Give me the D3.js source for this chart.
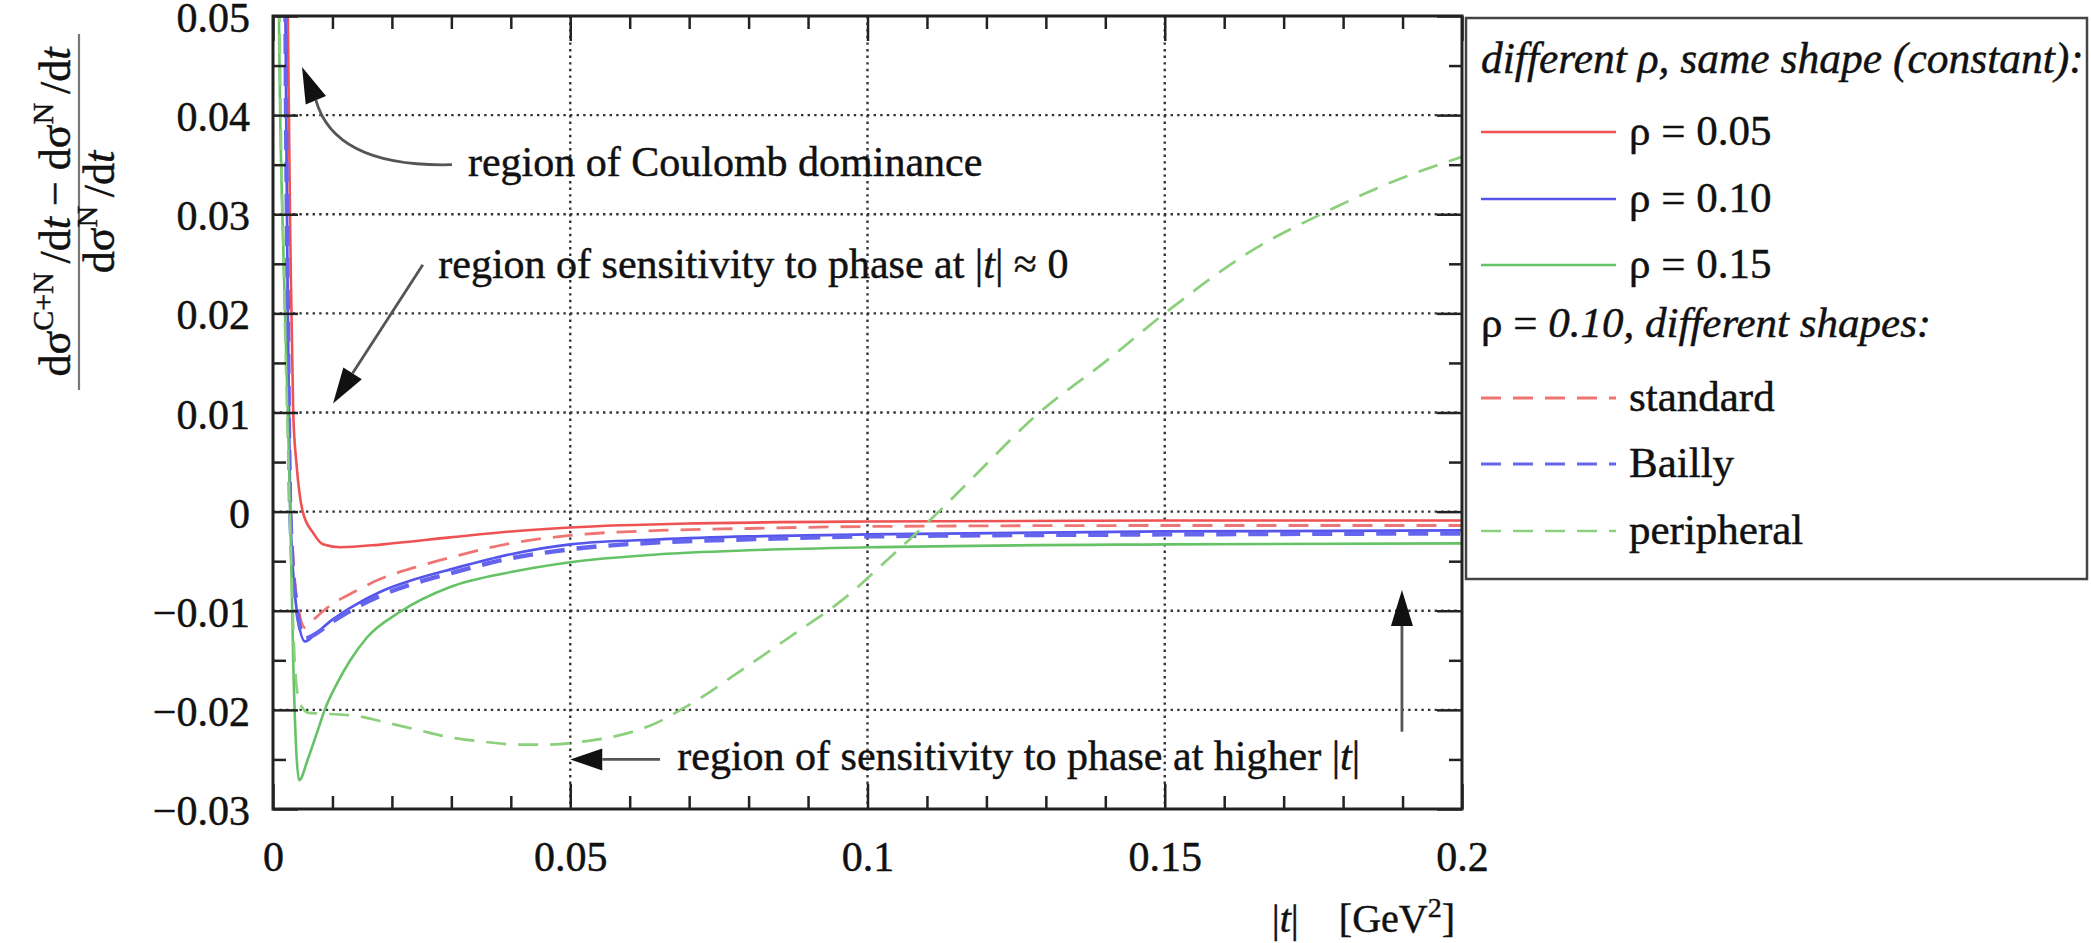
<!DOCTYPE html>
<html><head><meta charset="utf-8">
<script src="https://cdn.jsdelivr.net/npm/d3@7"></script>
<style>
body{margin:0;background:#fff}
svg{display:block}
svg text{font-family:"Liberation Serif","Times New Roman",serif;stroke:#111;stroke-width:0.45px;}
</style>
</head><body>
<svg id="c" width="2091" height="943"></svg>
<script>
// ---------- data ----------
const xTicks = [0, 0.05, 0.1, 0.15, 0.2];
const xTickLabels = ["0", "0.05", "0.1", "0.15", "0.2"];
const xMinorTicks = [0.01,0.02,0.03,0.04,0.06,0.07,0.08,0.09,0.11,0.12,0.13,0.14,0.16,0.17,0.18,0.19];
const yTicks = [0.05, 0.04, 0.03, 0.02, 0.01, 0, -0.01, -0.02, -0.03];
const yTickLabels = ["0.05","0.04","0.03","0.02","0.01","0","\u22120.01","\u22120.02","\u22120.03"];
const yMinorTicks = [0.045,0.035,0.025,0.015,0.005,-0.005,-0.015,-0.025];

// rho = 0.05, constant shape
const tRho005 = [0.0012,0.0025,0.003,0.0034,0.004,0.005,0.0067,0.0084,0.0113,0.0185,0.0298,0.04,0.05,0.07,0.1,0.15,0.2];
const vRho005 = [0.3,0.05,0.024,0.01,0.0045,0.0,-0.0021,-0.0033,-0.0036,-0.0033,-0.0026,-0.0020,-0.0016,-0.0012,-0.0010,-0.0009,-0.0009];
// rho = 0.10, constant shape
const tRho010 = [0.0010,0.0021,0.0025,0.0029,0.004,0.0054,0.007,0.01,0.013,0.018,0.024,0.03,0.04,0.05,0.065,0.08,0.1,0.15,0.2];
const vRho010 = [0.3,0.05,0.02,0.0,-0.010,-0.0131,-0.0124,-0.0109,-0.0097,-0.0081,-0.0068,-0.0058,-0.0043,-0.0033,-0.0028,-0.0025,-0.0023,-0.0020,-0.0019];
// rho = 0.15, constant shape
const tRho015 = [0.0006,0.001,0.0018,0.0025,0.0029,0.0034,0.0039,0.0044,0.0059,0.0074,0.0087,0.0108,0.013,0.0158,0.0214,0.0298,0.04,0.05,0.065,0.08,0.1,0.15,0.2];
const vRho015 = [0.3,0.05,0.025,0.01,0.0,-0.015,-0.024,-0.0271,-0.0249,-0.0223,-0.020,-0.0173,-0.015,-0.0127,-0.0101,-0.0076,-0.0061,-0.0051,-0.0043,-0.0039,-0.0036,-0.0033,-0.0032];
// rho = 0.10, standard shape
const tStandard = [0.0010,0.0021,0.0025,0.003,0.0042,0.0054,0.007,0.01,0.013,0.018,0.024,0.03,0.04,0.05,0.065,0.08,0.1,0.15,0.2];
const vStandard = [0.3,0.05,0.02,0.0,-0.0095,-0.0117,-0.0108,-0.0093,-0.0083,-0.0068,-0.0056,-0.0046,-0.0032,-0.0024,-0.0019,-0.0017,-0.0015,-0.0014,-0.0014];
// rho = 0.10, Bailly shape
const tBailly = [0.0010,0.0021,0.0025,0.0029,0.004,0.0054,0.007,0.01,0.013,0.018,0.024,0.03,0.04,0.05,0.065,0.08,0.1,0.15,0.2];
const vBailly = [0.3,0.05,0.02,0.0,-0.0098,-0.0128,-0.0124,-0.0111,-0.0100,-0.0085,-0.0072,-0.0062,-0.0047,-0.0038,-0.0031,-0.0028,-0.0025,-0.0023,-0.0022];
// rho = 0.10, peripheral shape
const tPeripheral = [0.0006,0.0011,0.0018,0.0026,0.0032,0.0037,0.0045,0.006,0.009,0.014,0.0185,0.0242,0.03,0.0353,0.041,0.0466,0.052,0.058,0.0634,0.07,0.08,0.088,0.096,0.104,0.112,0.12,0.1276,0.1408,0.15,0.1643,0.178,0.188,0.2];
const vPeripheral = [0.3,0.05,0.025,0.005,-0.008,-0.0157,-0.0193,-0.0203,-0.0204,-0.0206,-0.0212,-0.0220,-0.0228,-0.0232,-0.0235,-0.0235,-0.0232,-0.0226,-0.0216,-0.0195,-0.0155,-0.0122,-0.0088,-0.0045,0.0,0.0048,0.0093,0.0155,0.0200,0.0262,0.0305,0.0332,0.0358];

const seriesNames = ["\u03C1 = 0.05","\u03C1 = 0.10","\u03C1 = 0.15","standard","Bailly","peripheral"];
const legendHeader1 = "different \u03C1, same shape (constant):";
const legendHeader2a = "\u03C1 = ";
const legendHeader2b = "0.10, different shapes:";

const noteCoulomb = "region of Coulomb dominance";
const noteLowT = "region of sensitivity to phase at ";
const noteHighT = "region of sensitivity to phase at higher ";

// ---------- styles ----------
const serif = '"Liberation Serif","Times New Roman",serif';
const seriesColors = ["#ee5252","#5555ec","#66c266","#ef7474","#6464ee","#8ccf7c"];
const seriesDash = [null,null,null,"20,12","20,12","20,12"];
const seriesWidth = [2.6,2.7,2.6,2.8,4.4,2.7];

// ---------- layout ----------
const M = {left:273, right:1462, top:16, bottom:809};
const x = d3.scaleLinear().domain([0,0.2]).range([M.left, M.right]);
const y = d3.scaleLinear().domain([-0.03,0.05]).range([M.bottom, M.top]);
const svg = d3.select("#c");

svg.append("rect").attr("width",2091).attr("height",943).attr("fill","#fff");

// grid
const grid = svg.append("g").attr("stroke","#333").attr("stroke-width",2.4).attr("stroke-dasharray","2.4,4.2");
grid.selectAll("line.v").data(xTicks.slice(1,-1)).join("line").attr("class","v")
  .attr("x1",d=>x(d)).attr("x2",d=>x(d)).attr("y1",M.top).attr("y2",M.bottom);
grid.selectAll("line.h").data(yTicks.slice(1,-1)).join("line").attr("class","h")
  .attr("x1",M.left).attr("x2",M.right).attr("y1",d=>y(d)).attr("y2",d=>y(d));

// curves
svg.append("clipPath").attr("id","plotclip").append("rect")
  .attr("x",M.left).attr("y",M.top).attr("width",M.right-M.left).attr("height",M.bottom-M.top);
const seriesT = [tRho005,tRho010,tRho015,tStandard,tBailly,tPeripheral];
const seriesV = [vRho005,vRho010,vRho015,vStandard,vBailly,vPeripheral];
const line = d3.line().x(d=>x(d[0])).y(d=>y(d[1])).curve(d3.curveMonotoneX);
const cg = svg.append("g").attr("clip-path","url(#plotclip)");
seriesT.forEach((ts,i)=>{
  const pts = ts.map((t,j)=>[t, seriesV[i][j]]);
  cg.append("path").datum(pts).attr("d",line).attr("fill","none")
    .attr("stroke",seriesColors[i]).attr("stroke-width",seriesWidth[i])
    .attr("stroke-dasharray",seriesDash[i]);
});

// axes
function styleAxis(g){
  g.select(".domain").remove();
  g.selectAll("line").attr("stroke","#222").attr("stroke-width",2.5);
  g.attr("font-size",42).attr("font-family",serif);
  g.selectAll("text").attr("fill","#111").style("font-family",serif);
}
const MAJ=25, MIN=13;
svg.append("g").attr("transform",`translate(0,${M.bottom})`)
  .call(d3.axisBottom(x).tickValues(xTicks).tickFormat((d,i)=>xTickLabels[i]).tickSize(-MAJ).tickPadding(32)).call(styleAxis);
svg.append("g").attr("transform",`translate(0,${M.bottom})`)
  .call(d3.axisBottom(x).tickValues(xMinorTicks).tickFormat("").tickSize(-MIN)).call(styleAxis);
svg.append("g").attr("transform",`translate(0,${M.top})`)
  .call(d3.axisTop(x).tickValues(xTicks).tickFormat("").tickSize(-MAJ)).call(styleAxis);
svg.append("g").attr("transform",`translate(0,${M.top})`)
  .call(d3.axisTop(x).tickValues(xMinorTicks).tickFormat("").tickSize(-MIN)).call(styleAxis);
const gL = svg.append("g").attr("transform",`translate(${M.left},0)`)
  .call(d3.axisLeft(y).tickValues(yTicks).tickFormat((d,i)=>yTickLabels[i]).tickSize(-MAJ).tickPadding(23)).call(styleAxis);
gL.selectAll("text").attr("dy","0.37em");
svg.append("g").attr("transform",`translate(${M.left},0)`)
  .call(d3.axisLeft(y).tickValues(yMinorTicks).tickFormat("").tickSize(-MIN)).call(styleAxis);
svg.append("g").attr("transform",`translate(${M.right},0)`)
  .call(d3.axisRight(y).tickValues(yTicks).tickFormat("").tickSize(-MAJ)).call(styleAxis);
svg.append("g").attr("transform",`translate(${M.right},0)`)
  .call(d3.axisRight(y).tickValues(yMinorTicks).tickFormat("").tickSize(-MIN)).call(styleAxis);

// frame
svg.append("rect").attr("x",M.left).attr("y",M.top).attr("width",M.right-M.left).attr("height",M.bottom-M.top)
  .attr("fill","none").attr("stroke","#222").attr("stroke-width",3);

// x-axis title
const xt = svg.append("text").attr("x",1455).attr("y",932).attr("text-anchor","end")
  .attr("font-size",40).attr("fill","#111");
xt.append("tspan").text("|");
xt.append("tspan").attr("font-style","italic").text("t");
xt.append("tspan").text("|\u2003[GeV");
xt.append("tspan").attr("font-size",28).attr("dy",-15).text("2");
xt.append("tspan").attr("dy",15).text("]");

// y-axis title (fraction)
const yc = 212;
const num = svg.append("text").attr("transform",`translate(70,${yc}) rotate(-90)`).attr("text-anchor","middle")
  .attr("font-size",44).attr("fill","#111");
num.append("tspan").text("d\u03C3");
num.append("tspan").attr("font-size",30).attr("dy",-17).text("C+N");
num.append("tspan").attr("dy",17).text("\u2009/d");
num.append("tspan").attr("font-style","italic").text("t");
num.append("tspan").text(" \u2212 d\u03C3");
num.append("tspan").attr("font-size",30).attr("dy",-17).text("N");
num.append("tspan").attr("dy",17).text("\u2009/d");
num.append("tspan").attr("font-style","italic").text("t");
svg.append("line").attr("x1",79).attr("x2",79).attr("y1",yc-178).attr("y2",yc+178)
  .attr("stroke","#777").attr("stroke-width",2.2);
const den = svg.append("text").attr("transform",`translate(114,${yc}) rotate(-90)`).attr("text-anchor","middle")
  .attr("font-size",44).attr("fill","#111");
den.append("tspan").text("d\u03C3");
den.append("tspan").attr("font-size",30).attr("dy",-17).text("N");
den.append("tspan").attr("dy",17).text("\u2009/d");
den.append("tspan").attr("font-style","italic").text("t");

// ---------- annotations ----------
const ann = svg.append("g");
function arrowHead(tipX,tipY,fromX,fromY,len,wid){
  const a = Math.atan2(tipY-fromY, tipX-fromX);
  const bx = tipX - len*Math.cos(a), by = tipY - len*Math.sin(a);
  const px = -Math.sin(a)*wid/2, py = Math.cos(a)*wid/2;
  ann.append("path").attr("d",`M${tipX},${tipY}L${bx+px},${by+py}L${bx-px},${by-py}Z`).attr("fill","#111");
  return [bx,by];
}
function note(tx,vy,parts){
  const t = ann.append("text").attr("x",x(tx)).attr("y",y(vy)).attr("dy","0.26em")
    .attr("font-size",42).attr("fill","#111");
  parts.forEach(p=>{ const s=t.append("tspan").text(p[0]); if(p[1]) s.attr("font-style","italic"); });
}
{
  const tip=[x(0.00488),y(0.04486)], start=[x(0.0301),y(0.0350)], ctrl=[x(0.0104),y(0.0347)];
  const b = arrowHead(tip[0],tip[1],ctrl[0]+5,ctrl[1]-10,36,22);
  ann.append("path").attr("d",`M${start[0]},${start[1]}Q${ctrl[0]},${ctrl[1]} ${b[0]},${b[1]}`)
    .attr("fill","none").attr("stroke","#555").attr("stroke-width",2.8);
  note(0.0328,0.0350,[[noteCoulomb]]);
}
{
  const tip=[x(0.0101),y(0.0109)], start=[x(0.0252),y(0.0249)];
  const b = arrowHead(tip[0],tip[1],start[0],start[1],36,22);
  ann.append("line").attr("x1",start[0]).attr("y1",start[1]).attr("x2",b[0]).attr("y2",b[1])
    .attr("stroke","#555").attr("stroke-width",2.8);
  note(0.0278,0.0247,[[noteLowT],["|"],["t",true],["| \u2248 0"]]);
}
{
  const tip=[x(0.05),y(-0.025)], start=[x(0.0651),y(-0.025)];
  const b = arrowHead(tip[0],tip[1],start[0],start[1],32,22);
  ann.append("line").attr("x1",start[0]).attr("y1",start[1]).attr("x2",b[0]).attr("y2",b[1])
    .attr("stroke","#555").attr("stroke-width",2.8);
  note(0.068,-0.025,[[noteHighT],["|"],["t",true],["|"]]);
}
{
  const tip=[x(0.1899),y(-0.0079)], start=[x(0.1899),y(-0.0222)];
  const b = arrowHead(tip[0],tip[1],start[0],start[1],36,22);
  ann.append("line").attr("x1",start[0]).attr("y1",start[1]).attr("x2",b[0]).attr("y2",b[1])
    .attr("stroke","#555").attr("stroke-width",2.8);
}

// ---------- legend ----------
const L = {x:1466, y:18, w:621, h:561};
const lg = svg.append("g");
lg.append("rect").attr("x",L.x).attr("y",L.y).attr("width",L.w).attr("height",L.h)
  .attr("fill","#fff").attr("stroke","#444").attr("stroke-width",2.5);
lg.append("text").attr("x",1481).attr("y",73).attr("font-size",43.5)
  .attr("font-style","italic").attr("fill","#111").text(legendHeader1);
const h2 = lg.append("text").attr("x",1481).attr("y",337).attr("font-size",43).attr("fill","#111");
h2.append("tspan").text(legendHeader2a);
h2.append("tspan").attr("font-style","italic").text(legendHeader2b);
const rowY = [132,199,265,398,464,531];
seriesNames.forEach((n,i)=>{
  lg.append("line").attr("x1",1481).attr("x2",1616).attr("y1",rowY[i]).attr("y2",rowY[i])
    .attr("stroke",seriesColors[i]).attr("stroke-width",Math.min(seriesWidth[i],3))
    .attr("stroke-dasharray",seriesDash[i]);
  lg.append("text").attr("x",1629).attr("y",rowY[i]).attr("dy","0.3em")
    .attr("font-size",43).attr("fill","#111").text(n);
});
</script>
</body></html>
